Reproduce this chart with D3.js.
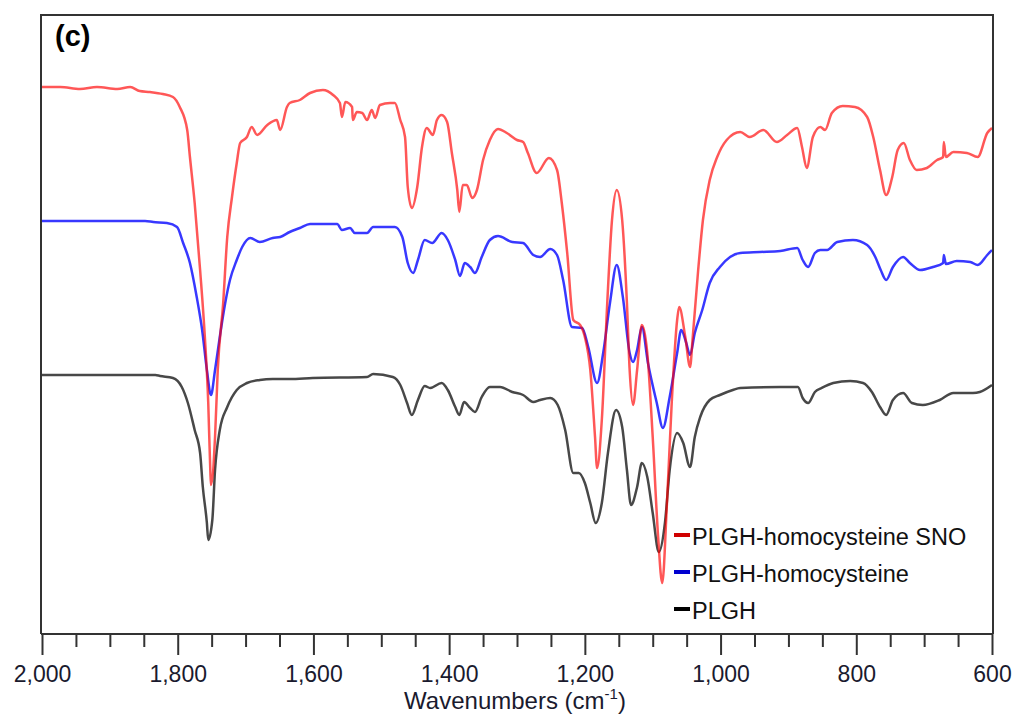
<!DOCTYPE html>
<html>
<head>
<meta charset="utf-8">
<script src="https://cdn.jsdelivr.net/npm/d3@7"></script>
<style>
  body { margin: 0; background: #fff; }
  svg { display: block; font-family: "Liberation Sans", Arial, sans-serif; }
</style>
</head>
<body>
<svg id="chart" width="1016" height="716"></svg>
<script>
// FTIR spectra, offset transmittance in arbitrary units
var snoWn = [2000,1973,1944,1919,1889,1870,1856,1841,1822,1807,1797,1786,1782,1775,1767,1760,1755,1752,1751,1745,1741,1733,1727,1720,1713,1708,1698,1691,1683,1668,1654,1649,1639,1635,1620,1605,1586,1571,1561,1558,1553,1543,1542,1536,1528,1521,1514,1509,1502,1487,1480,1472,1465,1461,1455,1447,1440,1433,1424,1418,1411,1403,1396,1388,1385,1380,1374,1366,1359,1350,1340,1328,1315,1300,1291,1284,1271,1253,1241,1234,1226,1217,1207,1200,1192,1185,1182,1175,1167,1160,1153,1145,1138,1134,1129,1123,1116,1108,1100,1092,1086,1079,1072,1064,1061,1052,1045,1041,1033,1026,1016,1005,991,971,957,937,917,902,887,880,873,864,853,846,836,820,802,784,775,765,756,747,739,730,721,711,696,681,672,671,668,657,637,621,607,600];
var snoT  = [547,547,545,547,545,547,543,542,540,537,527,504,477,431,364,297,231,164,149,197,264,331,397,437,471,491,497,507,499,509,514,504,527,531,534,541,544,539,531,517,532,527,514,522,521,514,524,516,529,531,531,514,497,447,426,447,487,506,499,514,519,512,481,444,422,449,449,436,444,474,494,505,501,494,492,481,461,476,464,431,381,314,309,297,264,197,166,214,331,414,444,414,331,264,229,264,309,281,197,97,51,131,231,314,327,297,267,297,364,414,454,477,494,502,497,504,492,499,506,487,466,497,507,504,521,528,527,517,497,464,439,457,484,491,474,464,466,474,477,492,477,482,481,477,501,506];

var hcyWn = [2000,1848,1836,1816,1801,1792,1782,1772,1764,1757,1751,1745,1738,1730,1723,1713,1705,1693,1679,1660,1649,1635,1620,1605,1565,1558,1546,1539,1521,1512,1480,1469,1461,1453,1446,1436,1425,1411,1402,1391,1384,1377,1369,1362,1352,1340,1328,1307,1291,1276,1266,1251,1241,1232,1219,1204,1195,1182,1173,1163,1153,1144,1134,1129,1123,1116,1107,1094,1085,1075,1064,1058,1051,1045,1038,1027,1016,1001,986,971,942,912,887,879,871,861,853,843,828,805,784,772,764,756,746,731,721,706,687,672,671,668,652,632,621,607,600];
var hcyT  = [413,413,412,411,407,391,371,337,304,264,239,264,297,331,354,374,387,396,392,396,397,402,406,410,410,404,406,401,401,407,407,397,371,361,374,394,391,401,394,374,358,371,367,361,377,394,398,392,391,379,377,385,379,354,307,306,287,251,281,331,369,337,281,272,284,307,271,231,206,237,281,304,292,279,301,324,351,367,377,381,382,383,386,374,367,381,384,384,392,394,389,377,364,354,367,377,371,364,367,371,379,370,373,372,369,379,384];

var plghWn = [2000,1833,1826,1807,1794,1785,1775,1767,1763,1757,1755,1749,1745,1738,1727,1713,1698,1679,1660,1635,1601,1521,1512,1483,1472,1462,1455,1446,1436,1428,1411,1402,1391,1385,1378,1369,1362,1352,1340,1325,1307,1291,1276,1266,1251,1240,1229,1217,1209,1200,1192,1184,1175,1166,1154,1145,1138,1132,1123,1116,1108,1100,1091,1082,1075,1064,1055,1045,1038,1030,1016,1001,982,971,912,886,879,871,861,851,834,809,790,777,765,756,746,731,718,702,677,657,628,618,600];
var plghT  = [259,259,258,256,247,231,204,181,147,111,94,114,164,204,227,244,251,254,255,255,256,257,260,257,249,231,219,234,248,246,251,244,227,219,232,226,222,237,247,247,242,239,232,234,236,229,204,161,161,151,131,111,131,181,224,207,164,129,147,171,157,121,82,111,164,201,191,167,197,217,234,239,244,246,247,247,236,231,242,246,251,253,251,242,227,219,234,241,231,229,234,241,241,242,249];

var seriesNames  = ["PLGH-homocysteine SNO", "PLGH-homocysteine", "PLGH"];
var majorTicks = [2000, 1800, 1600, 1400, 1200, 1000, 800, 600];
var minorTicks = d3.range(2000, 599, -50).filter(function(d) { return d % 200 !== 0; });

var svg = d3.select("#chart");
var plotLeft = 42, plotRight = 992, plotTop = 15, plotBottom = 634;

var x = d3.scaleLinear().domain([2000, 600]).range([plotLeft, plotRight]);
var y = d3.scaleLinear().domain([0, 619]).range([plotBottom, plotTop]);

var series = [
    { name: seriesNames[2], wn: plghWn, t: plghT, color: "rgba(20,20,20,0.78)", key: "#000" },
    { name: seriesNames[1], wn: hcyWn,  t: hcyT,  color: "rgba(0,0,255,0.78)",  key: "#0000d0" },
    { name: seriesNames[0], wn: snoWn,  t: snoT,  color: "rgba(255,0,0,0.66)",  key: "#d00000" }
];

var line = d3.line()
    .x(function(d) { return x(d[0]); })
    .y(function(d) { return y(d[1]); })
    .curve(d3.curveMonotoneX);

series.forEach(function(s) {
    var pts = s.wn.map(function(w, i) { return [w, s.t[i]]; });
    svg.append("path")
        .datum(pts)
        .attr("fill", "none")
        .attr("stroke", s.color)
        .attr("stroke-width", 2.5)
        .attr("stroke-linejoin", "round")
        .attr("d", line);
});

// frame: left, top, right
svg.append("path")
    .attr("d", "M" + (plotLeft - 1) + "," + plotBottom + "V" + plotTop + "H" + (plotRight + 1) + "V" + plotBottom)
    .attr("fill", "none")
    .attr("stroke", "#333")
    .attr("stroke-width", 2);

// minor ticks
var minorAxis = svg.append("g")
    .attr("transform", "translate(0," + plotBottom + ")")
    .call(d3.axisBottom(x).tickValues(minorTicks).tickSize(13).tickFormat(""));
minorAxis.select(".domain").remove();
minorAxis.selectAll("line").attr("stroke", "#333").attr("stroke-width", 2);

// major ticks + labels
var xAxis = svg.append("g")
    .attr("transform", "translate(0," + plotBottom + ")")
    .call(d3.axisBottom(x).tickValues(majorTicks).tickSize(21).tickPadding(11)
        .tickSizeOuter(0).tickFormat(d3.format(",")));
xAxis.select(".domain").attr("stroke", "#333").attr("stroke-width", 2)
    .attr("d", "M" + (plotLeft - 1) + ",0H" + (plotRight + 1));
xAxis.selectAll("line").attr("stroke", "#333").attr("stroke-width", 2);
xAxis.selectAll("text")
    .attr("fill", "#1a1a2e")
    .style("font-size", "23px")
    .style("font-family", "'Liberation Sans', Arial, sans-serif");

// axis title
var title = svg.append("text")
    .attr("x", (plotLeft + plotRight) / 2 - 2)
    .attr("y", 709)
    .attr("text-anchor", "middle")
    .attr("fill", "#1a1a2e")
    .style("font-size", "24px");
title.append("tspan").text("Wavenumbers (cm");
title.append("tspan").attr("dy", -10).style("font-size", "15px").text("-1");
title.append("tspan").attr("dy", 10).text(")");

// panel label
svg.append("text")
    .attr("x", 55)
    .attr("y", 46)
    .style("font-size", "29px")
    .style("font-weight", "bold")
    .text("(c)");

// legend
var legend = svg.append("g").attr("transform", "translate(674,535)");
series.slice().reverse().forEach(function(s, i) {
    var g = legend.append("g").attr("transform", "translate(0," + (i * 37) + ")");
    g.append("line")
        .attr("x1", 0).attr("x2", 16)
        .attr("stroke", s.key)
        .attr("stroke-width", 4);
    g.append("text")
        .attr("x", 18)
        .attr("y", 10)
        .attr("fill", "#111")
        .style("font-size", "23.5px")
        .text(s.name);
});
</script>
</body>
</html>
